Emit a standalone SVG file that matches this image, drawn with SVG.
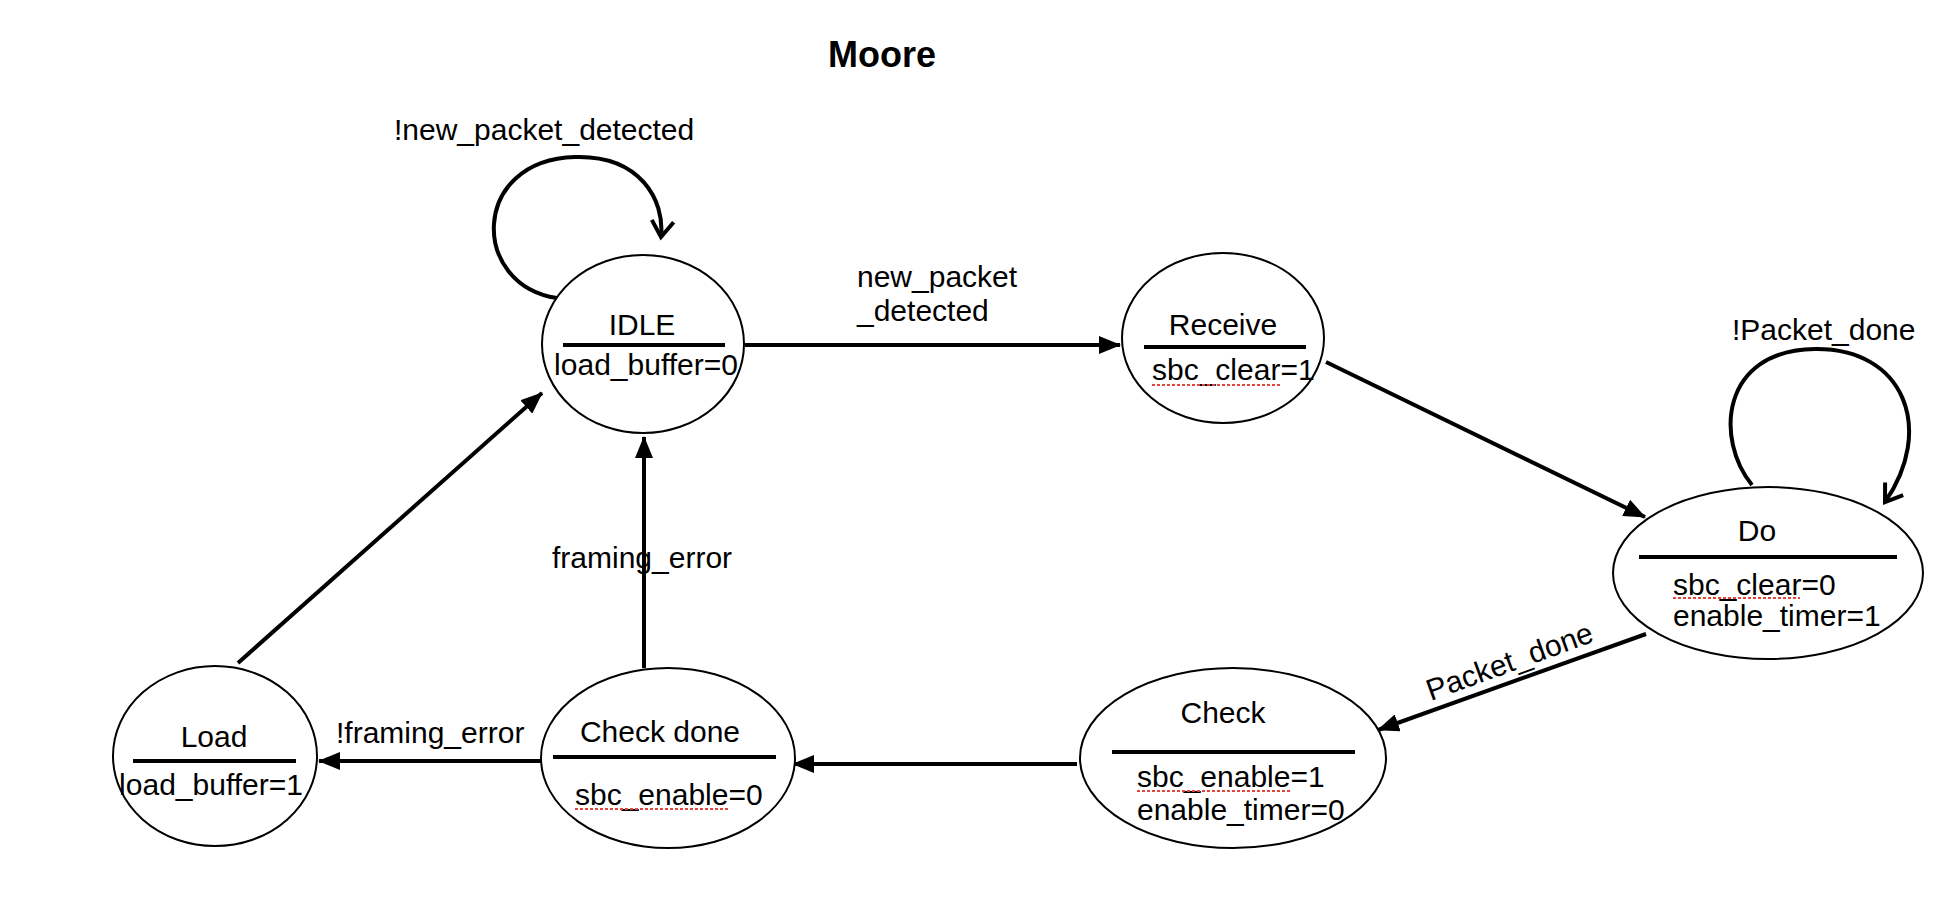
<svg xmlns="http://www.w3.org/2000/svg" width="1958" height="902" viewBox="0 0 1958 902">
<style>
  text { font-family: "Liberation Sans", Arial, Helvetica, sans-serif; font-size: 30px; fill: #000; }
  .title { font-weight: bold; font-size: 36px; }
  .st { fill: #fff; stroke: #000; stroke-width: 2; }
  .div { stroke: #000; stroke-width: 4; }
  .edge { stroke: #000; stroke-width: 4; fill: none; }
  .sq { stroke: #e2453c; stroke-width: 2; stroke-dasharray: 3 2; }
  .mid { text-anchor: middle; }
</style>
<defs>
  <marker id="tri" markerUnits="userSpaceOnUse" markerWidth="22" markerHeight="18" viewBox="0 0 22 18" refX="21" refY="9" orient="auto">
    <path d="M0,0 L22,9 L0,18 z" fill="#000"/>
  </marker>
  <marker id="vee" markerUnits="userSpaceOnUse" markerWidth="24" markerHeight="28" viewBox="-2 -14 24 28" refX="16" refY="0" orient="auto">
    <path d="M0,-11 L16,0 L0,11" fill="none" stroke="#000" stroke-width="4"/>
  </marker>
</defs>
<rect width="1958" height="902" fill="#fff"/>
<text class="title" x="828" y="67">Moore</text>

<g id="connectors">
  <path class="edge" d="M557,298 C470,285 470,160 575,157 C640,155 665,200 661,237" marker-end="url(#vee)"/>
  <line class="edge" x1="745" y1="345" x2="1120" y2="345" marker-end="url(#tri)"/>
  <line class="edge" x1="1326" y1="362" x2="1645" y2="517" marker-end="url(#tri)"/>
  <path class="edge" d="M1752,485 C1715,440 1720,350 1815,349 C1905,348 1935,430 1885,502" marker-end="url(#vee)"/>
  <line class="edge" x1="1646" y1="634" x2="1378" y2="730" marker-end="url(#tri)"/>
  <line class="edge" x1="1077" y1="764" x2="793" y2="764" marker-end="url(#tri)"/>
  <line class="edge" x1="644" y1="668" x2="644" y2="437" marker-end="url(#tri)"/>
  <line class="edge" x1="542" y1="761" x2="319" y2="761" marker-end="url(#tri)"/>
  <line class="edge" x1="238" y1="663" x2="542" y2="393" marker-end="url(#tri)"/>
  <text x="394" y="140">!new_packet_detected</text>
  <text x="857" y="287">new_packet</text>
  <text x="857" y="321">_detected</text>
  <text x="1732" y="340">!Packet_done</text>
  <text class="mid" x="1513" y="671" transform="rotate(-20 1513 671)">Packet_done</text>
  <text x="552" y="568">framing_error</text>
  <text x="336" y="743">!framing_error</text>
</g>

<g id="idle">
  <ellipse class="st" cx="643" cy="344" rx="101" ry="89"/>
  <line class="div" x1="563" y1="345" x2="725" y2="345"/>
  <text class="mid" x="642" y="335">IDLE</text>
  <text class="mid" x="646" y="375">load_buffer=0</text>
</g>

<g id="receive">
  <ellipse class="st" cx="1223" cy="338" rx="101" ry="85"/>
  <line class="div" x1="1144" y1="347" x2="1306" y2="347"/>
  <text class="mid" x="1223" y="335">Receive</text>
  <text x="1152" y="380">sbc_clear=1</text>
  <line class="sq" x1="1152" y1="385" x2="1280" y2="385"/>
</g>

<g id="do">
  <ellipse class="st" cx="1768" cy="573" rx="155" ry="86"/>
  <line class="div" x1="1639" y1="557" x2="1897" y2="557"/>
  <text class="mid" x="1757" y="541">Do</text>
  <text x="1673" y="595">sbc_clear=0</text>
  <line class="sq" x1="1673" y1="598" x2="1800" y2="598"/>
  <text x="1673" y="626">enable_timer=1</text>
</g>

<g id="check">
  <ellipse class="st" cx="1233" cy="758" rx="153" ry="90"/>
  <line class="div" x1="1112" y1="752" x2="1355" y2="752"/>
  <text class="mid" x="1223" y="723">Check</text>
  <text x="1137" y="787">sbc_enable=1</text>
  <line class="sq" x1="1137" y1="791" x2="1290" y2="791"/>
  <text x="1137" y="820">enable_timer=0</text>
</g>

<g id="check-done">
  <ellipse class="st" cx="668" cy="758" rx="127" ry="90"/>
  <line class="div" x1="553" y1="757" x2="776" y2="757"/>
  <text class="mid" x="660" y="742">Check done</text>
  <text x="575" y="805">sbc_enable=0</text>
  <line class="sq" x1="575" y1="809" x2="728" y2="809"/>
</g>

<g id="load">
  <ellipse class="st" cx="215" cy="756" rx="102" ry="90"/>
  <line class="div" x1="133" y1="761" x2="296" y2="761"/>
  <text class="mid" x="214" y="747">Load</text>
  <text class="mid" x="211" y="795">load_buffer=1</text>
</g>
</svg>
